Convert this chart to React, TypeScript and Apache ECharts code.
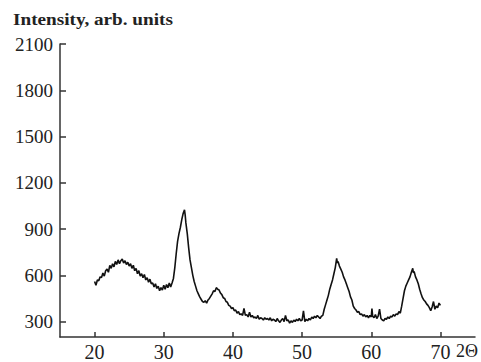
import React, { useEffect, useRef } from "react";
import * as echarts from "echarts";

const xTicks = [20, 30, 40, 50, 60, 70];
const yTicks = [300, 600, 900, 1200, 1500, 1800, 2100];

const twoTheta = [
  20.0, 20.2, 20.4, 20.6, 20.8, 21.0, 21.2, 21.4, 21.6, 21.8, 22.0, 22.2, 22.4, 22.6, 22.8, 23.0, 23.2, 23.4, 23.6, 23.8,
  24.0, 24.2, 24.4, 24.6, 24.8, 25.0, 25.2, 25.4, 25.6, 25.8, 26.0, 26.2, 26.4, 26.6, 26.8, 27.0, 27.2, 27.4, 27.6, 27.8,
  28.0, 28.2, 28.4, 28.6, 28.8, 29.0, 29.2, 29.4, 29.6, 29.8, 30.0, 30.2, 30.4, 30.6, 30.8, 31.0, 31.2, 31.4, 31.6, 31.8,
  32.0, 32.2, 32.4, 32.6, 32.8, 33.0, 33.1, 33.2, 33.4, 33.6, 33.8, 34.0, 34.2, 34.4, 34.6, 34.8, 35.0, 35.2, 35.4, 35.6,
  35.8, 36.0, 36.2, 36.4, 36.6, 36.8, 37.0, 37.2, 37.4, 37.6, 37.8, 38.0, 38.2, 38.4, 38.6, 38.8, 39.0, 39.2, 39.4, 39.6,
  39.8, 40.0, 40.2, 40.4, 40.6, 40.8, 41.0, 41.2, 41.4, 41.6, 41.8, 42.0, 42.2, 42.4, 42.6, 42.8, 43.0, 43.2, 43.4, 43.6,
  43.8, 44.0, 44.2, 44.4, 44.6, 44.8, 45.0, 45.2, 45.4, 45.6, 45.8, 46.0, 46.2, 46.4, 46.6, 46.8, 47.0, 47.2, 47.4, 47.6,
  47.8, 48.0, 48.2, 48.4, 48.6, 48.8, 49.0, 49.2, 49.4, 49.6, 49.8, 50.0, 50.2, 50.4, 50.6, 50.8, 51.0, 51.2, 51.4, 51.6,
  51.8, 52.0, 52.2, 52.4, 52.6, 52.8, 53.0, 53.2, 53.4, 53.6, 53.8, 54.0, 54.2, 54.4, 54.6, 54.8, 55.0, 55.1, 55.2, 55.4,
  55.6, 55.8, 56.0, 56.2, 56.4, 56.6, 56.8, 57.0, 57.2, 57.4, 57.6, 57.8, 58.0, 58.2, 58.4, 58.6, 58.8, 59.0, 59.2, 59.4,
  59.6, 59.8, 60.0, 60.1, 60.2, 60.4, 60.6, 60.8, 61.0, 61.2, 61.4, 61.6, 61.8, 62.0, 62.2, 62.4, 62.6, 62.8, 63.0, 63.2,
  63.4, 63.6, 63.8, 64.0, 64.2, 64.4, 64.6, 64.8, 65.0, 65.2, 65.4, 65.6, 65.8, 66.0, 66.1, 66.2, 66.4, 66.6, 66.8, 67.0,
  67.2, 67.4, 67.6, 67.8, 68.0, 68.2, 68.4, 68.6, 68.8, 69.0, 69.2, 69.4, 69.6, 69.8, 70.0,
];

const intensity = [
  560, 535, 570, 565, 590, 585, 615, 595, 630, 640, 620, 665, 645, 675, 655, 690, 670, 700, 675, 695,
  705, 680, 695, 670, 685, 660, 675, 645, 665, 630, 645, 610, 630, 595, 610, 585, 605, 570, 585, 555,
  575, 545, 550, 525, 545, 515, 530, 500, 520, 505, 535, 510, 540, 520, 550, 525, 550, 580, 650, 740,
  820, 870, 910, 960, 1000, 1025, 990, 940, 870, 780, 700, 650, 600, 560, 530, 500, 480, 460, 445, 430,
  425, 435, 420, 440, 450, 465, 480, 500, 495, 520, 510, 505, 485, 475, 455, 450, 430, 425, 405, 400,
  385, 390, 370, 375, 355, 365, 345, 350, 340, 385, 340, 345, 330, 360, 330, 340, 325, 330, 320, 340,
  315, 325, 320, 310, 325, 315, 320, 310, 325, 305, 315, 310, 300, 320, 305, 295, 310, 320, 300, 340,
  305, 310, 290, 305, 295, 310, 300, 315, 305, 320, 305, 310, 370, 300, 315, 305, 320, 310, 330, 320,
  335, 325, 340, 330, 320, 335, 340, 380, 410, 440, 470, 510, 540, 570, 610, 650, 710, 680, 690, 660,
  640, 620, 590, 570, 545, 520, 495, 460, 440, 400, 385, 375, 360, 365, 345, 350, 335, 345, 330, 340,
  325, 340, 330, 385, 335, 325, 345, 320, 335, 380, 320, 310, 305, 320, 315, 330, 320, 335, 330, 345,
  335, 350, 345, 365, 355, 400, 450, 500, 530, 550, 570, 590, 620, 645, 615, 625, 590, 570, 545, 510,
  480, 455, 440, 430, 415, 405, 390, 370, 395, 430, 380, 400, 390, 420, 405,
];

export default function App() {
  const ref = useRef<HTMLDivElement>(null);
  useEffect(() => {
    document.body.style.margin = "0";
    if (!ref.current) return;
    const chart = echarts.init(ref.current, null, { renderer: "svg" });
    const axisColor = "#333";
    chart.setOption({
      animation: false,
      backgroundColor: "#ffffff",
      grid: { left: 60, right: 6, top: 44, bottom: 22, containLabel: false },
      xAxis: {
        type: "value",
        min: 15,
        max: 75,
        axisLine: { show: true, onZero: false, lineStyle: { color: axisColor, width: 1.5 } },
        axisTick: { show: true, inside: true, length: 5, customValues: xTicks, lineStyle: { color: axisColor, width: 1.5 } },
        axisLabel: {
          customValues: xTicks,
          formatter: (v: number) => String(v),
          margin: 5,
          color: "#222",
          fontFamily: "Liberation Serif, serif",
          fontSize: 20,
        },
        splitLine: { show: false },
      },
      yAxis: {
        type: "value",
        min: 200,
        max: 2100,
        axisLine: { show: true, onZero: false, lineStyle: { color: axisColor, width: 1.5 } },
        axisTick: { show: true, inside: true, length: 6, customValues: yTicks, lineStyle: { color: axisColor, width: 1.5 } },
        axisLabel: {
          customValues: yTicks,
          formatter: (v: number) => String(v),
          margin: 7,
          color: "#222",
          fontFamily: "Liberation Serif, serif",
          fontSize: 19,
        },
        splitLine: { show: false },
      },
      graphic: [
        {
          type: "text",
          x: 13,
          y: 12,
          scaleX: 1.2,
          style: {
            text: "Intensity, arb. units",
            fill: "#222",
            font: "bold 16px 'Liberation Serif', serif",
            textVerticalAlign: "top",
          },
        },
        {
          type: "text",
          x: 456,
          y: 342,
          style: {
            text: "2Θ",
            fill: "#222",
            font: "18px 'Liberation Serif', serif",
            textVerticalAlign: "top",
          },
        },
      ],
      series: [
        {
          type: "line",
          data: twoTheta.map((x, i) => [x, intensity[i]]),
          showSymbol: false,
          lineStyle: { color: "#111", width: 1.6 },
        },
      ],
    });
    return () => chart.dispose();
  }, []);
  return <div ref={ref} style={{ width: 481, height: 362 }} />;
}
